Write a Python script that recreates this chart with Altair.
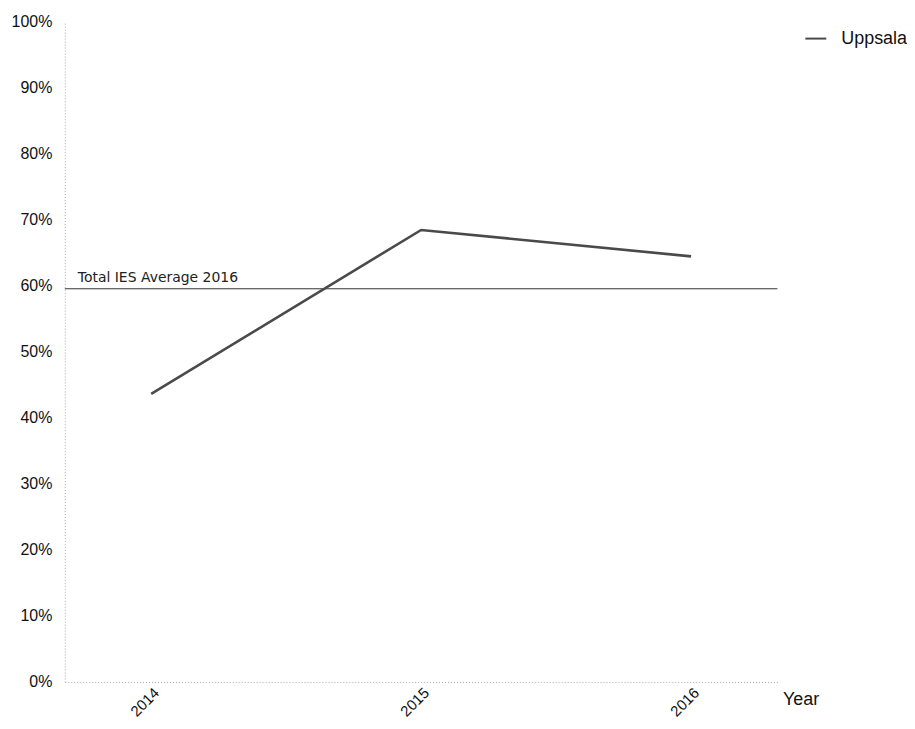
import altair as alt
import pandas as pd

years = ["2014", "2015", "2016"]
uppsala = [0.436, 0.684, 0.644]
series_name = "Uppsala"
average_value = 0.595
average_label = "Total IES Average 2016"

df = pd.DataFrame({"Year": years, "Value": uppsala, "Series": [series_name] * len(years)})
avg_df = pd.DataFrame({"v": [average_value], "label": [average_label]})

font = "Liberation Sans"

yscale = alt.Scale(domain=[0, 1], nice=False)

line = alt.Chart(df).mark_line(strokeWidth=2.6).encode(
    x=alt.X("Year:O", scale=alt.Scale(type="point", padding=0.32),
            axis=alt.Axis(labelAngle=-45, title="Year", titleAngle=0, titleAlign="left",
                          titleAnchor="start", titleX=720, titleY=23, titleBaseline="alphabetic",
                          titleFontWeight="normal", titleFontSize=18, titleColor="#111",
                          titleFont=font, labelFont=font, labelFontSize=15, labelColor="#111",
                          ticks=False, domainColor="#aaa", domainDash=[1, 2], labelPadding=3,
                          labelAlign="right", labelBaseline="top")),
    y=alt.Y("Value:Q", scale=yscale,
            axis=alt.Axis(format="%", values=[i / 10 for i in range(11)], title=None, grid=False,
                          ticks=False, domainColor="#aaa", domainDash=[1, 2], labelFont=font,
                          labelFontSize=16, labelColor="#111", labelPadding=13)),
    color=alt.Color("Series:N", scale=alt.Scale(range=["#4a4a4a"]),
                    legend=alt.Legend(title=None, orient="none", legendX=742, legendY=6,
                                      symbolType="stroke", symbolStrokeWidth=2, symbolSize=441,
                                      labelOffset=14,
                                      labelFont=font, labelFontSize=18, labelColor="#111")),
)

rule = alt.Chart(avg_df).mark_rule(color="#333333", strokeWidth=1).encode(
    y=alt.Y("v:Q", scale=yscale),
)

text = alt.Chart(avg_df).mark_text(align="left", baseline="alphabetic", dy=-7, font="DejaVu Sans",
                                   fontSize=14, color="#222").encode(
    x=alt.value(13),
    y=alt.Y("v:Q", scale=yscale),
    text="label:N",
)

chart = alt.layer(rule, text, line).properties(
    width=715, height=663,
    autosize=alt.AutoSizeParams(type="none"),
    padding={"left": 57, "top": 12, "right": 130, "bottom": 38},
).configure_view(stroke=None)

chart.save("out.html", embed_options={"renderer": "svg", "actions": False})
